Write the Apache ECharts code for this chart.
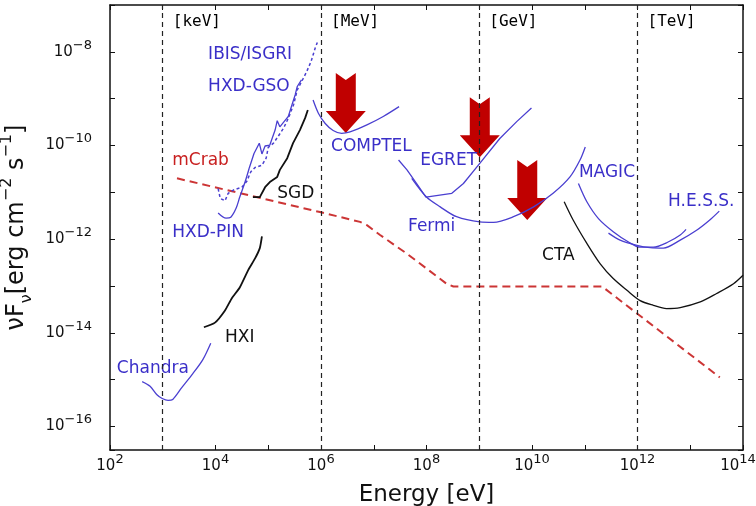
<!DOCTYPE html>
<html lang="en">
<head>
<meta charset="UTF-8">
<title>Sensitivity</title>
<script src="https://cdn.jsdelivr.net/npm/echarts@6/dist/echarts.min.js"></script>
<style>
    html, body { margin: 0; padding: 0; background: #fff; }
    #main { width: 756px; height: 506px; }
</style>
</head>
<body>
<div id="main"></div>
<script type="text/javascript">
// points are [log10(E / eV), log10(nuFnu / erg cm^-2 s^-1)]
var chandra = [[2.61,-15.04],[2.76,-15.14],[2.89,-15.32],[2.99,-15.40],[3.10,-15.44],[3.19,-15.42],[3.36,-15.17],[3.57,-14.87],[3.76,-14.57],[3.91,-14.22]];
var hxi = [[3.78,-13.88],[3.99,-13.78],[4.18,-13.52],[4.31,-13.26],[4.46,-13.03],[4.62,-12.66],[4.75,-12.41],[4.84,-12.19],[4.88,-11.94]];
var sgd = [[4.71,-11.10],[4.84,-11.10],[4.94,-10.89],[5.03,-10.78],[5.17,-10.67],[5.22,-10.52],[5.36,-10.27],[5.47,-9.95],[5.60,-9.67],[5.70,-9.41],[5.75,-9.24]];
var hxdPin = [[4.05,-11.44],[4.20,-11.55],[4.29,-11.53],[4.39,-11.34],[4.46,-11.10],[4.56,-10.78],[4.64,-10.48]];
var hxdGso = [[4.64,-10.48],[4.73,-10.17],[4.83,-9.95],[4.88,-10.18],[4.94,-10.01],[5.03,-9.99],[5.13,-9.67],[5.17,-9.47],[5.22,-9.60],[5.30,-9.49],[5.38,-9.38],[5.45,-9.13],[5.51,-8.92],[5.55,-8.74],[5.63,-8.60]];
var ibisIsgri = [[4.05,-10.92],[4.09,-11.13],[4.18,-11.18],[4.24,-11.02],[4.34,-10.95],[4.50,-10.89],[4.59,-10.77],[4.67,-10.56],[4.75,-10.47],[4.88,-10.42],[4.96,-10.27],[5.00,-10.04],[5.10,-9.95],[5.19,-9.80],[5.29,-9.63],[5.38,-9.42],[5.48,-9.13],[5.55,-8.81],[5.63,-8.64],[5.73,-8.42],[5.81,-8.21],[5.89,-7.92],[5.93,-7.80]];
var comptel = [[5.85,-9.03],[5.95,-9.31],[6.08,-9.53],[6.23,-9.68],[6.39,-9.74],[6.55,-9.71],[6.87,-9.56],[7.18,-9.38],[7.48,-9.17]];
var egret = [[7.47,-10.31],[7.63,-10.52],[7.81,-10.81],[7.99,-11.10],[8.48,-11.02],[8.70,-10.81],[9.01,-10.38],[9.39,-9.85],[9.71,-9.49],[9.99,-9.20]];
var fermi = [[7.72,-10.70],[8.00,-11.10],[8.26,-11.31],[8.57,-11.52],[9.01,-11.63],[9.27,-11.64],[9.65,-11.52],[10.03,-11.31],[10.40,-11.02],[10.72,-10.67],[10.91,-10.31],[11.01,-10.03]];
var magic = [[10.88,-10.81],[11.04,-11.20],[11.26,-11.56],[11.54,-11.84],[11.83,-12.06],[12.05,-12.17],[12.30,-12.17],[12.58,-12.06],[12.81,-11.91],[12.92,-11.79]];
var hess = [[11.45,-11.87],[11.67,-12.02],[11.99,-12.13],[12.24,-12.18],[12.49,-12.19],[12.81,-12.02],[13.12,-11.81],[13.37,-11.59],[13.55,-11.40]];
var cta = [[10.61,-11.20],[10.78,-11.59],[11.04,-12.09],[11.29,-12.52],[11.54,-12.84],[11.80,-13.09],[12.05,-13.31],[12.30,-13.41],[12.55,-13.48],[12.81,-13.46],[13.19,-13.34],[13.50,-13.16],[13.82,-12.95],[14.00,-12.77]];
var mCrab = [[3.27,-10.70],[5.98,-11.42],[6.74,-11.63],[6.87,-11.70],[7.12,-11.91],[7.63,-12.31],[8.38,-12.95],[8.51,-13.01],[11.33,-13.01],[13.56,-14.95]];
var arrowTips = [[6.47,-9.73],[9.01,-10.25],[9.91,-11.59]];

// band edges (log10 eV) and their names
var bandEdges = [3, 6, 9, 12];
var bandNames = ['[keV]', '[MeV]', '[GeV]', '[TeV]'];

// text labels: name, anchor (left end, middle) in log units
var labelNames = ['IBIS/ISGRI', 'HXD-GSO', 'mCrab', 'SGD', 'HXD-PIN', 'HXI', 'Chandra', 'COMPTEL', 'EGRET', 'Fermi', 'MAGIC', 'H.E.S.S.', 'CTA'];
var labelAt = [[3.86,-8.06],[3.86,-8.75],[3.18,-10.33],[5.17,-11.02],[3.18,-11.85],[4.18,-14.10],[2.13,-14.76],[6.19,-10.03],[7.88,-10.33],[7.65,-11.72],[10.89,-10.57],[12.58,-11.19],[10.19,-12.36]];

var BLUE = '#4a3fd0', BLUE_TXT = '#3a2fc8', RED = '#cc3535', BLACK = '#111';
var labelColors = {'mCrab': '#c82020', 'SGD': BLACK, 'HXI': BLACK, 'CTA': BLACK};

function lin(pts) {
    return pts.map(function (p) { return [Math.pow(10, p[0]), Math.pow(10, p[1])]; });
}
function curve(name, pts, color, width, type, smooth) {
    return {
        name: name, type: 'line', data: lin(pts), showSymbol: false, smooth: smooth || false,
        lineStyle: {color: color, width: width, type: type || 'solid'}, z: 3, silent: true
    };
}
function expLabel(v) {
    var e = Math.log10(v), r = Math.round(e);
    if (Math.abs(e - r) > 1e-6 || r % 2 !== 0) return '';
    // last x label sits at the page edge, pad it so it moves left a bit
    var sup = r === 14 ? 'e' : 's';
    return '{b|10}{' + sup + '|' + (r < 0 ? '\u2212' : '') + Math.abs(r) + '}';
}
var tickRich = {
    b: {fontSize: 15, lineHeight: 26, fontFamily: 'DejaVu Sans', color: BLACK},
    s: {fontSize: 13, verticalAlign: 'top', fontFamily: 'DejaVu Sans', color: BLACK},
    e: {fontSize: 13, verticalAlign: 'top', fontFamily: 'DejaVu Sans', color: BLACK, padding: [0, 10, 0, 0]}
};

var myChart = echarts.init(document.getElementById('main'));

var textData = labelNames.map(function (n, i) {
    return {name: n, value: lin([labelAt[i]])[0],
        label: {color: labelColors[n] || BLUE_TXT}};
});
var bandData = bandNames.map(function (n, i) {
    return {name: n, value: lin([[bandEdges[i] + 0.19, -7.36]])[0]};
});

var option = {
    animation: false,
    backgroundColor: '#fff',
    grid: {left: 110, right: 13, top: 5, bottom: 56, outerBoundsMode: 'none', containLabel: false},
    xAxis: [{
        type: 'log', logBase: 10, min: 1e2, max: 1e14, interval: 1,
        name: 'Energy [eV]', nameLocation: 'middle', nameGap: 34,
        nameTextStyle: {fontSize: 23, fontFamily: 'DejaVu Sans', color: BLACK},
        axisLine: {lineStyle: {color: BLACK, width: 1.5}},
        axisTick: {inside: true, length: 5, lineStyle: {color: BLACK}},
        axisLabel: {interval: 0, margin: 3, formatter: expLabel, rich: tickRich},
        splitLine: {show: false}
    }, {
        type: 'log', logBase: 10, min: 1e2, max: 1e14, interval: 1, position: 'top',
        axisLine: {lineStyle: {color: BLACK, width: 1.5}},
        axisTick: {inside: true, length: 5, lineStyle: {color: BLACK}},
        axisLabel: {show: false}, splitLine: {show: false}
    }],
    yAxis: [{
        // no interval here: the scale picks whole decades itself from 10^-16
        type: 'log', logBase: 10, min: Math.pow(10, -16.5), max: 1e-7,
        name: '{a|\u03bdF}{u|\u03bd}{a|[erg cm}{p|\u22122}{a| s}{p|\u22121}{a|]}',
        nameLocation: 'middle', nameGap: 66, nameRotate: 90,
        nameTextStyle: {
            rich: {
                a: {fontSize: 24, lineHeight: 36, fontFamily: 'DejaVu Sans', color: BLACK},
                u: {fontSize: 16, verticalAlign: 'bottom', fontFamily: 'DejaVu Sans', color: BLACK},
                p: {fontSize: 16, verticalAlign: 'top', fontFamily: 'DejaVu Sans', color: BLACK}
            }
        },
        axisLine: {lineStyle: {color: BLACK, width: 1.5}},
        axisTick: {inside: true, length: 5, lineStyle: {color: BLACK}},
        axisLabel: {interval: 0, margin: 18, formatter: expLabel, rich: tickRich},
        splitLine: {show: false}
    }, {
        type: 'log', logBase: 10, min: Math.pow(10, -16.5), max: 1e-7, position: 'right',
        axisLine: {lineStyle: {color: BLACK, width: 1.5}},
        axisTick: {inside: true, length: 5, lineStyle: {color: BLACK}},
        axisLabel: {show: false}, splitLine: {show: false}
    }],
    series: [
        {
            name: 'limits', type: 'scatter', data: lin(arrowTips), z: 2, silent: true,
            symbol: 'path://M10,0 L20,7 L30,0 L30,38 L40,38 L20,60 L0,38 L10,38 Z',
            symbolSize: [40, 60], symbolOffset: [0, -30], symbolKeepAspect: false,
            itemStyle: {color: '#c00000', opacity: 1}
        },
        curve('mCrab', mCrab, RED, 2, [8, 5]),
        curve('Chandra', chandra, BLUE, 1.3, 'solid', 0.3),
        curve('HXI', hxi, BLACK, 1.8, 'solid', 0.2),
        curve('SGD', sgd, BLACK, 1.8),
        curve('HXD-PIN', hxdPin, BLUE, 1.3, 'solid', 0.3),
        curve('HXD-GSO', hxdGso, BLUE, 1.3),
        curve('IBIS/ISGRI', ibisIsgri, BLUE, 1.5, [3, 2.5]),
        curve('COMPTEL', comptel, BLUE, 1.3, 'solid', 0.3),
        curve('EGRET', egret, BLUE, 1.3),
        curve('Fermi', fermi, BLUE, 1.3, 'solid', 0.3),
        curve('MAGIC', magic, BLUE, 1.3, 'solid', 0.3),
        curve('H.E.S.S.', hess, BLUE, 1.3, 'solid', 0.3),
        curve('CTA', cta, BLACK, 1.3, 'solid', 0.3),
        {
            name: 'labels', type: 'scatter', data: textData, symbolSize: 0, silent: true, z: 4,
            itemStyle: {opacity: 1},
            label: {show: true, position: 'right', distance: 0, formatter: '{b}',
                fontSize: 17, fontFamily: 'DejaVu Sans', verticalAlign: 'middle'},
            markLine: {
                symbol: 'none', silent: true, label: {show: false},
                lineStyle: {color: '#222', width: 1.2, type: [5, 4], opacity: 1},
                data: bandEdges.map(function (e) { return {xAxis: Math.pow(10, e)}; })
            }
        },
        {
            name: 'bands', type: 'scatter', data: bandData, symbolSize: 0, silent: true, z: 4,
            itemStyle: {opacity: 1},
            label: {show: true, position: 'right', distance: 0, formatter: '{b}',
                fontSize: 16, fontFamily: 'DejaVu Sans Mono', color: '#000', verticalAlign: 'middle'}
        }
    ]
};
myChart.setOption(option);
</script>
</body>
</html>
